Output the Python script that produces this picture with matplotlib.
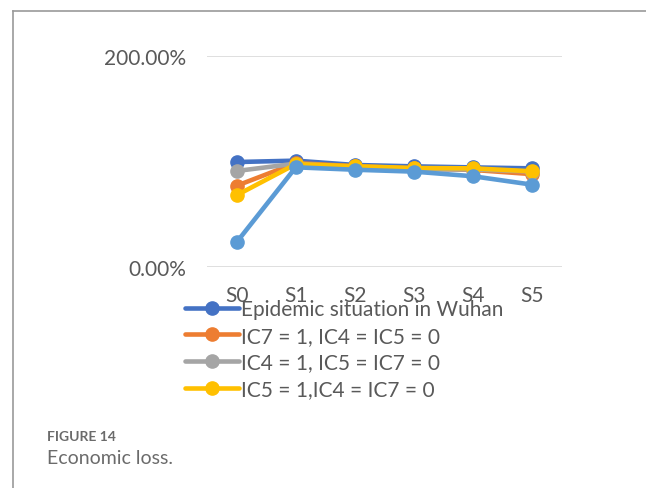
import matplotlib
matplotlib.use("Agg")
import matplotlib.pyplot as plt
from matplotlib.lines import Line2D

# Datos (pérdida económica, %)
escenarios = ["S0", "S1", "S2", "S3", "S4", "S5"]
wuhan = [99.5, 100.8, 96.7, 95.4, 94.4, 93.5]
ic7 = [77.0, 98.5, 95.5, 93.5, 92.0, 88.0]
ic4 = [91.0, 98.0, 94.5, 92.5, 92.5, 90.5]
ic5 = [68.0, 97.5, 95.5, 93.8, 93.5, 90.7]
otro = [23.4, 94.5, 92.2, 90.4, 86.0, 78.0]

etiquetas = ["Epidemic situation in Wuhan", "IC7 = 1, IC4 = IC5 = 0",
             "IC4 = 1, IC5 = IC7 = 0", "IC5 = 1,IC4 = IC7 = 0", "_oculta"]
colores = ["#4472C4", "#ED7D31", "#A5A5A5", "#FFC000", "#5B9BD5"]

TXT = "#595959"; GRID = "#D9D9D9"; BORDE = "#9A9A9A"
plt.rcParams["font.family"] = ["Lato", "DejaVu Sans"]

W, H = 646, 489
fig = plt.figure(figsize=(W / 100, H / 100), dpi=100)

# marco de la figura (borde izquierdo y superior)
fig.add_artist(Line2D([12.5 / W, 12.5 / W], [0, 1 - 12 / H], color=BORDE, lw=1.2))
fig.add_artist(Line2D([12.5 / W, 1], [1 - 12 / H, 1 - 12 / H], color=BORDE, lw=1.2))

ax = fig.add_axes([207 / W, 1 - 268 / H, 355 / W, 211 / H])
x = range(len(escenarios))
for serie, lab, col in zip([wuhan, ic7, ic4, ic5, otro], etiquetas, colores):
    ax.plot(x, [v / 100 for v in serie], color=col, lw=3.3, marker="o",
            ms=9.5, label=lab, solid_capstyle="round")

ax.set_xlim(-0.5, len(escenarios) - 0.5)
ax.set_ylim(0, 2)
ax.set_yticks([0, 2], ["0.00%", "200.00%"])
ax.set_xticks(list(x), escenarios)
ax.tick_params(length=0, colors=TXT, labelsize=15)
ax.tick_params(axis="y", pad=15)
ax.tick_params(axis="x", pad=13)
ax.grid(axis="y", color=GRID, lw=1.2)
ax.set_axisbelow(True)
for s in ax.spines.values():
    s.set_visible(False)

h, l = ax.get_legend_handles_labels()
fig.legend(h, l, loc="upper left", bbox_to_anchor=(185 / W, 1 - 300 / H),
           frameon=False, handlelength=2.6, handletextpad=0.1, labelspacing=0.32,
           numpoints=1, fontsize=15, labelcolor=TXT, borderpad=0, borderaxespad=0)

fig.text(47 / W, 1 - 437 / H, "FIGURE 14", fontsize=10, fontweight="bold",
         color="#6B6B6B", va="center")
fig.text(47 / W, 1 - 459 / H, "Economic loss.", fontsize=14, color="#6B6B6B", va="center")

fig.savefig("out.png")
